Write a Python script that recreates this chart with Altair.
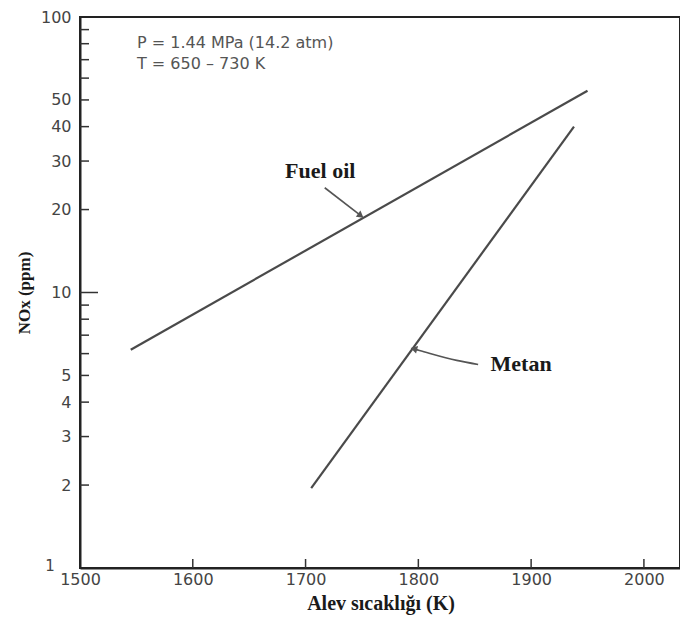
import altair as alt
import pandas as pd

# --- data ---
fuel_T = [1545, 1950]
fuel_NOx = [6.2, 54]
metan_T = [1705, 1938]
metan_NOx = [1.95, 40]

y_label_values = [2, 3, 4, 5, 10, 20, 30, 40, 50, 100]
y_minor_ticks = [2, 3, 4, 5, 6, 7, 8, 9, 20, 30, 40, 50, 60, 70, 80, 90]
y_major_ticks = [10]
x_label_values = [1500, 1600, 1700, 1800, 1900, 2000]
x_ticks = [1600, 1700, 1800, 1900, 2000]

# annotations (data units)
label_text = ["Fuel oil", "Metan"]
label_T = [1713, 1864]
label_NOx = [27.6, 5.5]

fuel_arrow_T = [1717, 1749]
fuel_arrow_NOx = [24.0, 19.0]
metan_arrow_T = [1853, 1834, 1801, 1796]
metan_arrow_NOx = [5.48, 5.67, 6.16, 6.24]

W, H = 600, 551
xs = alt.Scale(domain=[1500, 2032], nice=False, zero=False)
ys = alt.Scale(type="log", domain=[1, 100], nice=False)

LINE_COLOR = "#4a4a4a"
TEXT_COLOR = "#444444"

x_axis = alt.Axis(
    values=x_label_values, title=None, grid=False, tickSize=0,
    labelPadding=3, labelFont="DejaVu Sans", labelFontSize=16,
    labelColor=TEXT_COLOR, domainColor="#222", domainWidth=2,
    format="d", labelFlush=False, labelOverlap=False)
y_axis = alt.Axis(
    values=y_label_values, title=None, grid=False, tickSize=0,
    labelPadding=9, labelFont="DejaVu Sans", labelFontSize=16,
    labelColor=TEXT_COLOR, domainColor="#222", domainWidth=2,
    format="d", labelFlush=False, labelOverlap=False)


def X(f):
    return alt.X(f, scale=xs, axis=x_axis)


def Y(f):
    return alt.Y(f, scale=ys, axis=y_axis)


lines_df = pd.DataFrame({
    "T": fuel_T + metan_T,
    "NOx": fuel_NOx + metan_NOx,
    "fuel": ["Fuel oil"] * len(fuel_T) + ["Metan"] * len(metan_T),
})

lines = alt.Chart(lines_df).mark_line(color=LINE_COLOR, strokeWidth=2.2).encode(
    x=X("T:Q"), y=Y("NOx:Q"), detail="fuel:N")

minor_y = alt.Chart(pd.DataFrame({"NOx": y_minor_ticks})).mark_rule(
    color="#333", strokeWidth=1.5).encode(
    y=Y("NOx:Q"), x=alt.value(0), x2=alt.value(9))
major_y = alt.Chart(pd.DataFrame({"NOx": y_major_ticks})).mark_rule(
    color="#333", strokeWidth=1.5).encode(
    y=Y("NOx:Q"), x=alt.value(0), x2=alt.value(18))
x_tk = alt.Chart(pd.DataFrame({"T": x_ticks})).mark_rule(
    color="#333", strokeWidth=1.5).encode(
    x=X("T:Q"), y=alt.value(H), y2=alt.value(H - 9))

one_label = alt.Chart(pd.DataFrame({"t": ["1"]})).mark_text(
    font="DejaVu Sans", fontSize=15, color=TEXT_COLOR, align="center",
    baseline="middle").encode(text="t:N", x=alt.value(-30), y=alt.value(H - 2))

labels_df = pd.DataFrame({"text": label_text, "T": label_T, "NOx": label_NOx})
fuel_lbl = alt.Chart(labels_df.iloc[[0]]).mark_text(
    font="Liberation Serif", fontWeight="bold", fontSize=22, color="#1a1a1a",
    align="center", baseline="middle").encode(
    x=X("T:Q"), y=Y("NOx:Q"), text="text:N")
metan_lbl = alt.Chart(labels_df.iloc[[1]]).mark_text(
    font="Liberation Serif", fontWeight="bold", fontSize=22, color="#1a1a1a",
    align="left", baseline="middle").encode(
    x=X("T:Q"), y=Y("NOx:Q"), text="text:N")

fa_df = pd.DataFrame({"T": fuel_arrow_T, "NOx": fuel_arrow_NOx,
                      "o": list(range(len(fuel_arrow_T)))})
fuel_arrow = alt.Chart(fa_df).mark_line(color="#555", strokeWidth=1.6).encode(
    x=X("T:Q"), y=Y("NOx:Q"), order="o:Q")
fuel_head = alt.Chart(fa_df.iloc[[-1]]).mark_point(
    shape="triangle-right", angle=36, size=60, filled=True, color="#555",
    opacity=1).encode(x=X("T:Q"), y=Y("NOx:Q"))

ma_df = pd.DataFrame({"T": metan_arrow_T, "NOx": metan_arrow_NOx,
                      "o": list(range(len(metan_arrow_T)))})
metan_arrow = alt.Chart(ma_df).mark_line(color="#555", strokeWidth=1.6,
                                         interpolate="monotone").encode(
    x=X("T:Q"), y=Y("NOx:Q"), order="o:Q")
metan_head = alt.Chart(ma_df.iloc[[-1]]).mark_point(
    shape="triangle-left", angle=15, size=60, filled=True, color="#555",
    opacity=1).encode(x=X("T:Q"), y=Y("NOx:Q"))

cond1 = alt.Chart(pd.DataFrame({"t": ["P = 1.44 MPa (14.2 atm)"]})).mark_text(
    font="DejaVu Sans", fontSize=16, color="#555", align="left",
    baseline="middle").encode(text="t:N", x=alt.value(57), y=alt.value(26))
cond2 = alt.Chart(pd.DataFrame({"t": ["T = 650 \u2013 730 K"]})).mark_text(
    font="DejaVu Sans", fontSize=16, color="#555", align="left",
    baseline="middle").encode(text="t:N", x=alt.value(57), y=alt.value(47))

xtitle = alt.Chart(pd.DataFrame({"t": ["Alev s\u0131cakl\u0131\u011f\u0131 (K)"]})).mark_text(
    font="Liberation Serif", fontWeight="bold", fontSize=20, color="#1a1a1a",
    align="center", baseline="middle").encode(
    text="t:N", x=alt.value(301), y=alt.value(H + 36))
ytitle = alt.Chart(pd.DataFrame({"t": ["NOx (ppm)"]})).mark_text(
    font="Liberation Serif", fontWeight="bold", fontSize=17, color="#1a1a1a",
    align="center", baseline="middle", angle=270).encode(
    text="t:N", x=alt.value(-55), y=alt.value(276))

chart = alt.layer(
    lines, minor_y, major_y, x_tk, one_label, fuel_lbl, metan_lbl,
    fuel_arrow, fuel_head, metan_arrow, metan_head, cond1, cond2, xtitle, ytitle,
).properties(
    width=W, height=H,
    autosize=alt.AutoSizeParams(type="none"),
    padding={"left": 72, "top": 9, "right": 0, "bottom": 49},
    background="white",
).configure_view(stroke="#222", strokeWidth=2)

chart.save("out.html", embed_options={"renderer": "svg", "actions": False})
